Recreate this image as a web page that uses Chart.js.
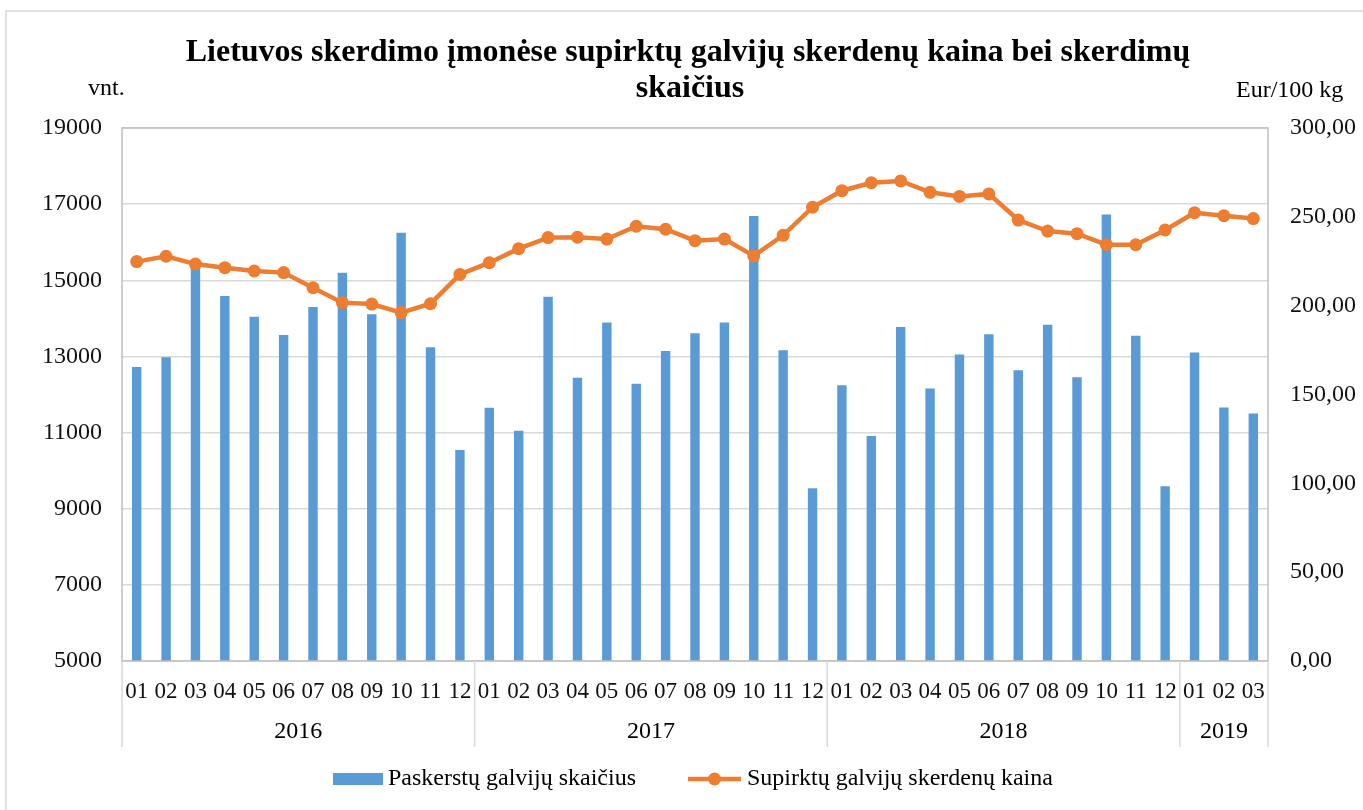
<!DOCTYPE html>
<html>
<head>
<meta charset="utf-8">
<script src="https://cdn.jsdelivr.net/npm/chart.js@4.4.1/dist/chart.umd.min.js"></script>
<style>
    html, body { margin: 0; padding: 0; background: #fff; }
    #wrap { width: 1363px; height: 810px; position: relative; }
</style>
</head>
<body>
<div id="wrap"><canvas id="chart" width="1363" height="810"></canvas></div>
<script>
// Categories: months and the year groups they belong to
const months = ['01', '02', '03', '04', '05', '06', '07', '08', '09', '10', '11', '12',
    '01', '02', '03', '04', '05', '06', '07', '08', '09', '10', '11', '12',
    '01', '02', '03', '04', '05', '06', '07', '08', '09', '10', '11', '12',
    '01', '02', '03'];
const years = ['2016', '2017', '2018', '2019'];
const yearSizes = [12, 12, 12, 3];

// Paskerstų galvijų skaičius (vnt.)
const slaughtered = [12720, 12980, 15350, 14590, 14040, 13560, 14300, 15200, 14110, 16250, 13240, 10540,
    11650, 11050, 14570, 12440, 13890, 12280, 13140, 13610, 13890, 16690, 13160, 9540,
    12240, 10910, 13770, 12160, 13050, 13580, 12640, 13830, 12450, 16730, 13540, 9590,
    13100, 11660, 11500];

// Supirktų galvijų skerdenų kaina (Eur/100 kg)
const price = [224.8, 227.8, 223.4, 221.4, 219.5, 218.6, 210.1, 201.7, 200.9, 196.1, 201.1, 217.6,
    224.2, 232.1, 238.3, 238.5, 237.5, 244.7, 243.0, 236.6, 237.5, 228.0, 239.6, 255.4,
    264.7, 269.2, 270.2, 263.8, 261.5, 262.9, 248.2, 242.0, 240.5, 234.3, 234.3, 242.6,
    252.3, 250.6, 249.0];

const barName = 'Paskerstų galvijų skaičius';
const lineName = 'Supirktų galvijų skerdenų kaina';
const titleLines = ['Lietuvos skerdimo įmonėse supirktų galvijų skerdenų kaina bei skerdimų', 'skaičius'];

const blue = '#5b9bd5';
const orange = '#ed7d31';
const serif = "'Liberation Serif', 'Times New Roman', serif";

Chart.defaults.font.family = serif;
Chart.defaults.font.size = 24;
Chart.defaults.color = '#111';

// title, unit labels, year row, frame and legend
const decorations = {
    id: 'decorations',
    afterDraw(chart) {
        const ctx = chart.ctx;
        const area = chart.chartArea;
        const x = chart.scales.x;
        ctx.save();

        // outer border
        ctx.strokeStyle = '#d9d9d9';
        ctx.lineWidth = 1.5;
        ctx.strokeRect(6, 11, 1380, 820);

        // plot frame
        ctx.strokeStyle = '#bfbfbf';
        ctx.lineWidth = 1.5;
        ctx.strokeRect(area.left, area.top, area.right - area.left, area.bottom - area.top);

        // title
        ctx.fillStyle = '#000';
        ctx.textAlign = 'center';
        ctx.textBaseline = 'middle';
        ctx.font = 'bold 32px ' + serif;
        ctx.fillText(titleLines[0], 688, 53);
        ctx.fillText(titleLines[1], 690, 89);

        // units
        ctx.font = '24px ' + serif;
        ctx.textAlign = 'left';
        ctx.fillText('vnt.', 88, 89);
        ctx.fillText('Eur/100 kg', 1236, 91);

        // year groups and separators
        ctx.strokeStyle = '#d9d9d9';
        ctx.lineWidth = 1.5;
        let start = 0;
        const half = (x.getPixelForValue(1) - x.getPixelForValue(0)) / 2;
        const edges = [area.left];
        years.forEach((yr, i) => {
            const end = start + yearSizes[i] - 1;
            const left = x.getPixelForValue(start) - half;
            const right = x.getPixelForValue(end) + half;
            edges.push(right);
            ctx.textAlign = 'center';
            ctx.fillText(yr, (left + right) / 2, 732);
            start = end + 1;
        });
        edges.forEach(e => {
            ctx.beginPath();
            ctx.moveTo(e, area.bottom);
            ctx.lineTo(e, 747);
            ctx.stroke();
        });

        // legend
        ctx.fillStyle = blue;
        ctx.fillRect(333, 773, 50, 12);
        ctx.fillStyle = '#000';
        ctx.textAlign = 'left';
        ctx.fillText(barName, 388, 779);

        ctx.strokeStyle = orange;
        ctx.lineWidth = 4.5;
        ctx.beginPath();
        ctx.moveTo(688, 779);
        ctx.lineTo(741, 779);
        ctx.stroke();
        ctx.fillStyle = orange;
        ctx.beginPath();
        ctx.arc(714.5, 779, 6.5, 0, Math.PI * 2);
        ctx.fill();
        ctx.fillStyle = '#000';
        ctx.fillText(lineName, 747, 779);

        ctx.restore();
    }
};

new Chart(document.getElementById('chart').getContext('2d'), {
    type: 'bar',
    data: {
        labels: months,
        datasets: [{
            type: 'line',
            label: lineName,
            data: price,
            yAxisID: 'y1',
            borderColor: orange,
            backgroundColor: orange,
            borderWidth: 4.5,
            pointRadius: 6.5,
            pointBackgroundColor: orange,
            pointBorderWidth: 0,
            tension: 0,
            order: 0,
        }, {
            type: 'bar',
            label: barName,
            data: slaughtered,
            yAxisID: 'y',
            backgroundColor: blue,
            barPercentage: 0.32,
            categoryPercentage: 1,
            order: 1,
        }],
    },
    options: {
        responsive: false,
        animation: false,
        layout: {
            padding: { top: 128, left: 0, right: 0, bottom: 0 }
        },
        plugins: {
            legend: { display: false },
            title: { display: false },
            tooltip: { enabled: false },
        },
        scales: {
            x: {
                grid: { display: false, drawTicks: false },
                border: { display: false },
                ticks: { padding: 17, maxRotation: 0, autoSkip: false, font: { size: 23 } },
                afterFit: (scale) => { scale.height = 149; },
            },
            y: {
                position: 'left',
                min: 5000,
                max: 19000,
                ticks: { stepSize: 2000, padding: 20, callback: (value) => String(value) },
                grid: { color: '#d9d9d9', lineWidth: 1.5, drawTicks: false },
                border: { display: false },
                afterFit: (scale) => { scale.width = 122; },
            },
            y1: {
                position: 'right',
                min: 0,
                max: 300,
                ticks: {
                    stepSize: 50,
                    padding: 22,
                    callback: (value) => value.toFixed(2).replace('.', ','),
                },
                grid: { display: false, drawTicks: false },
                border: { display: false },
                afterFit: (scale) => { scale.width = 95; },
            },
        },
    },
    plugins: [decorations],
});
</script>
</body>
</html>
